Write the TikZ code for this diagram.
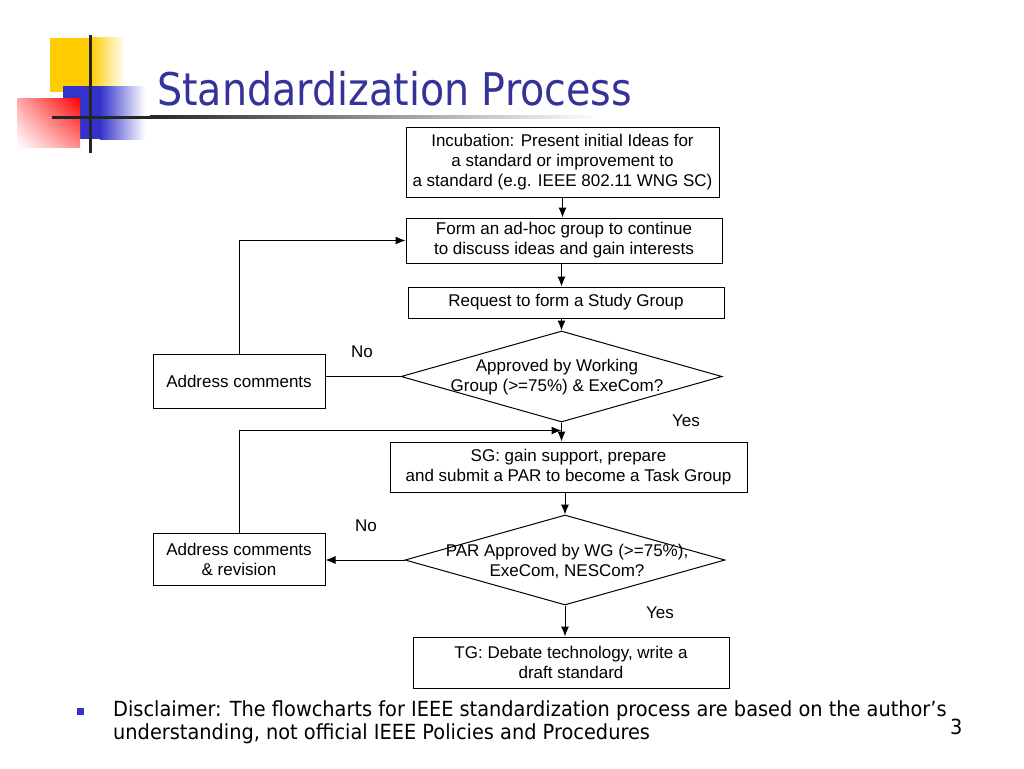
\documentclass[tikz,border=0pt]{standalone}
\usepackage{fontspec}
\setmainfont{Liberation Sans}
\newfontfamily\titlefont[FakeStretch=0.88]{DejaVu Sans}
\newfontfamily\notefont[FakeStretch=0.93]{DejaVu Sans}
\usetikzlibrary{shapes.geometric,arrows.meta,shadings}
\definecolor{titleblue}{RGB}{51,51,153}
\definecolor{logoyellow}{RGB}{255,204,0}
\definecolor{logoblue}{RGB}{51,51,204}
\definecolor{logored}{RGB}{255,0,0}
\begin{document}
\begin{tikzpicture}[x=1pt,y=-1pt,
		boxfont/.style={font=\fontsize{17}{20}\selectfont},
		box/.style={boxfont,draw=black,line width=1pt,rectangle,inner sep=0pt,align=center},
		choice/.style={draw=black,line width=1pt,diamond,inner sep=0pt},
		flow/.style={line width=1pt,-{Latex[length=10pt,width=8pt]}},
		answer/.style={boxfont,inner sep=0pt},
		notefont/.style={font=\notefont\fontsize{20.8}{23}\selectfont}]
			\useasboundingbox (0,0) rectangle (1024,768);
			% logo
			\fill [logoyellow] (50,38) rectangle (90,92);
			\shade [left color=logoyellow,right color=white] (90,38) rectangle (125,92);
			\fill [logoblue] (63,86) rectangle (100,139);
			\shade [left color=logoblue,right color=white] (100,86) rectangle (145,139);
			\shade [upper right=logored,lower left=white,upper left=logored!35,lower right=logored!45] (17,98) rectangle (80,147);
			\fill [black!85] (88.5,35) rectangle (91.5,153);
			\fill [black!85] (52,115.5) rectangle (150,118.5);
			\shade [left color=black!85,right color=white] (150,115.5) rectangle (600,118.5);
			\node [anchor=base west,inner sep=0pt,text=titleblue,font=\titlefont\fontsize{45}{54}\selectfont] (title) at (157,105) {Standardization Process};
			% flowchart
			\node [box,minimum width=313,minimum height=70] (incub) at (562.5,162) {Incubation: Present initial Ideas for\\a standard or improvement to\\a standard (e.g. IEEE 802.11 WNG SC)};
			\node [box,minimum width=316,minimum height=45] (adhoc) at (564,240.5) {Form an ad-hoc group to continue\\to discuss ideas and gain interests};
			\node [box,minimum width=316,minimum height=31] (sgreq) at (566,302.5) {Request to form a Study Group};
			\node [choice,minimum width=321,minimum height=91] (wgvote) at (561.5,376.5) {};
			\node [answer,align=center] at (557,377) {Approved by Working\\Group (>=75\%) \& ExeCom?};
			\node [box,minimum width=172,minimum height=54] (fix1) at (239,381) {Address comments};
			\node [box,minimum width=357,minimum height=50] (sgwork) at (568.5,467) {SG: gain support, prepare\\and submit a PAR to become a Task Group};
			\node [choice,minimum width=320,minimum height=90] (parvote) at (565,560) {};
			\node [answer,align=center] at (567,561) {PAR Approved by WG (>=75\%),\\ExeCom, NESCom?};
			\node [box,minimum width=172,minimum height=52] (fix2) at (239,559) {Address comments\\\& revision};
			\node [box,minimum width=316,minimum height=51] (tgwork) at (571,662.5) {TG: Debate technology, write a\\draft standard};
			\node [answer] (no1) at (362,352) {No};
			\node [answer] (yes1) at (686,421) {Yes};
			\node [answer] (no2) at (366,526) {No};
			\node [answer] (yes2) at (660,613) {Yes};
			\coordinate (merge) at ([yshift=-8pt]wgvote.south);
			\draw [flow] (incub.south) -- (incub.south |- adhoc.north);
			\draw [flow] ([xshift=-1pt]adhoc.south -| incub.south) -- ([xshift=-1pt]sgreq.north -| incub.south);
			\draw [flow] (wgvote.north |- sgreq.south) -- (wgvote.north);
			\draw [line width=1pt] (wgvote.west) -- (wgvote.west -| fix1.east);
			\draw [flow] (fix1.north) |- (adhoc.west);
			\draw [flow] (wgvote.south) -- (wgvote.south |- sgwork.north);
			\draw [flow] (fix2.north) |- (merge);
			\draw [flow] (parvote.north |- sgwork.south) -- (parvote.north);
			\draw [flow] (parvote.west) -- (parvote.west -| fix2.east);
			\draw [flow] (parvote.south) -- (parvote.south |- tgwork.north);
			% note
			\fill [logoblue] (76.5,707.5) rectangle (83.5,714.5);
			\node [notefont,anchor=west,inner sep=0pt,align=left] (note) at (113,722) {Disclaimer: The flowcharts for IEEE standardization process are based on the author’s\\understanding, not official IEEE Policies and Procedures};
			\node [notefont,anchor=base west,inner sep=0pt] (page) at (950,734) {3};
		\end{tikzpicture}
\end{document}
